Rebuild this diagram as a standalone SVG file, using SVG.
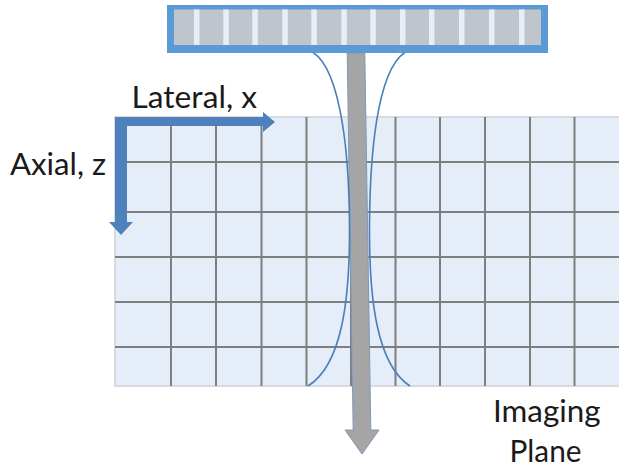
<svg xmlns="http://www.w3.org/2000/svg" width="619" height="469" viewBox="0 0 619 469">
<style>
.grid{stroke:#7f7f7f;stroke-width:2;fill:none}
.lbl{font-family:Lato,"Open Sans","Liberation Sans",sans-serif;font-size:30px;fill:#1a1a1a}
.beamline{fill:none;stroke:#4a7ebb;stroke-width:1.6}
.stripe{fill:#e8eef6}
.axis{fill:#4f81bd}
</style>
<rect width="619" height="469" fill="#ffffff"/>
<g id="imaging-plane">
<rect x="115" y="117" width="510" height="269" fill="#e5edf8" stroke="#d6dbe2" stroke-width="2"/>
<path class="grid" d="M171,117V386M216,117V386M261.5,117V386M306.5,117V386M351,117V386M395.5,117V386M440,117V386M485,117V386M530,117V386M574.5,117V386"/>
<path class="grid" d="M115,162H619M115,212H619M115,257H619M115,302H619M115,347H619"/>
</g>
<g id="connectors">
<polygon id="beam-arrow" points="347.2,53 364.8,53 370.8,430 379,430 362,454 345,430 353.2,430" fill="#a5a5a5" stroke="#7f98b8" stroke-width="1"/>
<path class="beamline" d="M308,50 C338,60 349,140 349.5,225 C350,300 342,365 308,386"/>
<path class="beamline" d="M410,50 C380,60 370,140 369.5,225 C369,300 377,365 410,386"/>
<path id="lateral-axis" class="axis" d="M115,117H263V112L275,122L263,132V126H127V222H133L121,235L109,222H115Z"/>
</g>
<g id="transducer">
<rect x="167" y="5" width="381" height="48" fill="#5b9bd5"/>
<rect x="174" y="9.5" width="367" height="35.5" fill="#bfc5cc"/>
<rect class="stripe" x="194" y="9.5" width="5.5" height="35.5"/>
<rect class="stripe" x="223.3" y="9.5" width="5.5" height="35.5"/>
<rect class="stripe" x="252.3" y="9.5" width="5.5" height="35.5"/>
<rect class="stripe" x="282.3" y="9.5" width="5.5" height="35.5"/>
<rect class="stripe" x="311.3" y="9.5" width="5.5" height="35.5"/>
<rect class="stripe" x="341.3" y="9.5" width="5.5" height="35.5"/>
<rect class="stripe" x="370.3" y="9.5" width="5.5" height="35.5"/>
<rect class="stripe" x="400" y="9.5" width="5.5" height="35.5"/>
<rect class="stripe" x="429" y="9.5" width="5.5" height="35.5"/>
<rect class="stripe" x="459" y="9.5" width="5.5" height="35.5"/>
<rect class="stripe" x="489" y="9.5" width="5.5" height="35.5"/>
<rect class="stripe" x="519" y="9.5" width="5.5" height="35.5"/>
</g>
<g id="labels">
<text class="lbl" x="131.5" y="108" textLength="125.5" lengthAdjust="spacingAndGlyphs">Lateral, x</text>
<text class="lbl" x="10" y="175" textLength="96" lengthAdjust="spacingAndGlyphs">Axial, z</text>
<text class="lbl" x="493" y="421.5" textLength="107.5" lengthAdjust="spacingAndGlyphs">Imaging</text>
<text class="lbl" x="509.5" y="461.5" textLength="72" lengthAdjust="spacingAndGlyphs">Plane</text>
</g>
</svg>
